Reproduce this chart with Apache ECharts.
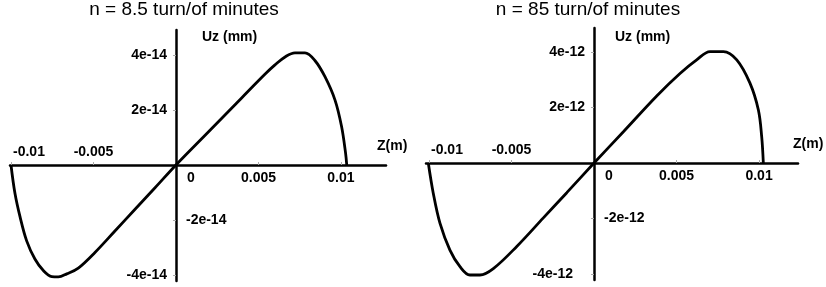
<!DOCTYPE html>
<html>
<head>
<meta charset="utf-8">
<script src="https://cdn.jsdelivr.net/npm/echarts@6/dist/echarts.min.js"></script>
<style>
html, body { margin: 0; padding: 0; background: #fff; }
#main { width: 826px; height: 287px; }
</style>
</head>
<body>
<div id="main"></div>
<script>
// z in metres, Uz in mm
var titles = ['n = 8.5 turn/of minutes', 'n = 85 turn/of minutes'];

var zLeft = [-0.01000, -0.00976, -0.00945, -0.00905, -0.00855, -0.00804, -0.00753, -0.00713, -0.00662, -0.00592, -0.00491, -0.00370, -0.00248, -0.00127, 0,
	0.00196, 0.00398, 0.00539, 0.00600, 0.00661, 0.00721, 0.00782, 0.00842, 0.00903, 0.00964, 0.01004, 0.01028, 0.01035];
var uzLeft = [0, -1.03e-14, -1.89e-14, -2.76e-14, -3.42e-14, -3.84e-14, -4.06e-14, -4.07e-14, -3.96e-14, -3.75e-14, -3.18e-14, -2.40e-14, -1.61e-14, -0.83e-14, 0,
	1.20e-14, 2.44e-14, 3.30e-14, 3.64e-14, 3.93e-14, 4.08e-14, 4.08e-14, 3.80e-14, 3.21e-14, 2.36e-14, 1.39e-14, 0.43e-14, 0];

var zRight = [-0.01004, -0.00974, -0.00933, -0.00873, -0.00812, -0.00752, -0.00691, -0.00610, -0.00468, -0.00307, -0.00165, 0,
	0.00178, 0.00380, 0.00521, 0.00622, 0.00703, 0.00784, 0.00865, 0.00945, 0.00996, 0.01016, 0.01026];
var uzRight = [0, -1.09e-12, -2.18e-12, -3.14e-12, -3.74e-12, -4.04e-12, -4.04e-12, -3.81e-12, -3.01e-12, -1.98e-12, -1.07e-12, 0,
	1.13e-12, 2.42e-12, 3.23e-12, 3.72e-12, 4.02e-12, 4.02e-12, 3.72e-12, 2.88e-12, 1.91e-12, 0.95e-12, 0];

// tick labels
var zTicks = [-0.01, -0.005, 0.005, 0.01];
var zLabelsAbove = [-0.01, -0.005];
var zLabelsBelow = [0, 0.005, 0.01];
var uTicksLeft = [4e-14, 2e-14, -2e-14, -4e-14];
var uLabelsLeftA = [4e-14, 2e-14, -4e-14];
var uLabelsLeftB = [-2e-14];
var uTicksRight = [4e-12, 2e-12, -2e-12, -4e-12];
var uLabelsRightA = [4e-12, 2e-12, -4e-12];
var uLabelsRightB = [-2e-12];

var FONT = 'Liberation Sans';
var lbl = { fontFamily: FONT, fontSize: 14, fontWeight: 'bold', color: '#000' };

function pairs(xs, ys) {
	var out = [];
	for (var i = 0; i < xs.length; i++) out.push([xs[i], ys[i]]);
	return out;
}
function same(a, b) { return Math.abs(a - b) < Math.abs(b) * 1e-6 + 1e-20; }
function rich(extra) {
	var r = { n: Object.assign({}, lbl) };
	for (var k in extra) r[k] = Object.assign({}, lbl, extra[k]);
	return r;
}

var option = {
	backgroundColor: '#fff',
	animation: false,
	title: [],
	grid: [],
	xAxis: [],
	yAxis: [],
	series: []
};

function addPanel(p) {
	var g = option.grid.length;
	// axes cross at the origin: shift each axis from the grid edge to zero
	var zeroY = p.height * p.uMax / (p.uMax - p.uMin);
	var zeroX = p.width * (-p.zMin) / (p.zMax - p.zMin);
	var line = { onZero: false, lineStyle: { color: '#000', width: 2.5 } };
	var noLine = { onZero: false, show: false };
	var tick = { length: 3, lineStyle: { color: '#aaa', width: 1 } };

	option.title.push({
		text: p.title, left: p.titleX, top: 0, textAlign: 'center', padding: 0,
		textStyle: { fontFamily: FONT, fontSize: 19, fontWeight: 'normal', color: '#000' }
	});
	option.grid.push({ left: p.left, top: p.top, width: p.width, height: p.height, outerBoundsMode: 'none' });

	// x axis, labels below (also carries the name)
	option.xAxis.push({
		type: 'value', gridIndex: g, position: 'bottom', offset: -(p.height - zeroY), min: p.zMin, max: p.zMax,
		axisLine: line, splitLine: { show: false }, axisTick: { show: false },
		name: 'Z(m)', nameLocation: 'end', nameGap: p.zNameGap, nameMoveOverlap: false,
		nameTextStyle: Object.assign({}, lbl, { align: 'left', verticalAlign: 'bottom', padding: [0, 0, 12, 0] }),
		axisLabel: {
			customValues: zLabelsBelow, margin: 6,
			formatter: function (v) { return v === 0 ? '{o|0}' : '{n|' + v + '}'; },
			rich: rich({ o: { padding: [0, 0, 0, 30] } })
		}
	});
	// x axis, labels above
	option.xAxis.push({
		type: 'value', gridIndex: g, position: 'top', offset: -zeroY, min: p.zMin, max: p.zMax,
		axisLine: noLine, splitLine: { show: false },
		axisTick: Object.assign({ show: true, customValues: zTicks }, tick),
		axisLabel: {
			customValues: zLabelsAbove, margin: 6,
			formatter: function (v) { return same(v, -0.01) ? '{s|' + v + '}' : '{n|' + v + '}'; },
			rich: rich({ s: { padding: [0, 0, 0, 36] } })
		}
	});
	// y axis, labels left (also carries the name)
	option.yAxis.push({
		type: 'value', gridIndex: g, position: 'left', offset: -zeroX, min: p.uMin, max: p.uMax,
		axisLine: line, splitLine: { show: false },
		axisTick: Object.assign({ show: true, customValues: p.uTicks }, tick),
		name: 'Uz (mm)', nameLocation: 'end', nameGap: p.uNameGap, nameMoveOverlap: false,
		nameTextStyle: Object.assign({}, lbl, { align: 'left', verticalAlign: 'middle', padding: [0, 0, 0, p.uNamePad] }),
		axisLabel: {
			customValues: p.uLabelsA, margin: 9,
			formatter: function (v) { return v < 0 && p.lowShift ? '{s|' + v + '}' : '{n|' + v + '}'; },
			rich: rich({ s: { padding: [0, p.lowShift || 0, 0, 0] } })
		}
	});
	// y axis, labels right
	option.yAxis.push({
		type: 'value', gridIndex: g, position: 'right', offset: -(p.width - zeroX), min: p.uMin, max: p.uMax,
		axisLine: noLine, splitLine: { show: false }, axisTick: { show: false },
		axisLabel: {
			customValues: p.uLabelsB, margin: 10,
			formatter: function (v) { return '{n|' + v + '}'; },
			rich: rich({})
		}
	});
	option.series.push({
		type: 'line', xAxisIndex: g * 2, yAxisIndex: g * 2,
		data: pairs(p.z, p.uz), showSymbol: false, smooth: 0.35,
		lineStyle: { color: '#000', width: 2.8 }, silent: true
	});
}

addPanel({
	title: titles[0], titleX: 184,
	left: 10, top: 30, width: 376, height: 251,
	zMin: -0.01006, zMax: 0.01273, uMin: -4.22e-14, uMax: 4.91e-14,
	z: zLeft, uz: uzLeft, uTicks: uTicksLeft, uLabelsA: uLabelsLeftA, uLabelsB: uLabelsLeftB,
	zNameGap: -9, uNameGap: -7, uNamePad: 26, lowShift: 0
});
addPanel({
	title: titles[1], titleX: 588,
	left: 426, top: 28, width: 372, height: 252,
	zMin: -0.01018, zMax: 0.01236, uMin: -4.22e-12, uMax: 4.87e-12,
	z: zRight, uz: uzRight, uTicks: uTicksRight, uLabelsA: uLabelsRightA, uLabelsB: uLabelsRightB,
	zNameGap: -5, uNameGap: -9, uNamePad: 21, lowShift: 12
});

var myChart = echarts.init(document.getElementById('main'));
myChart.setOption(option);
</script>
</body>
</html>
